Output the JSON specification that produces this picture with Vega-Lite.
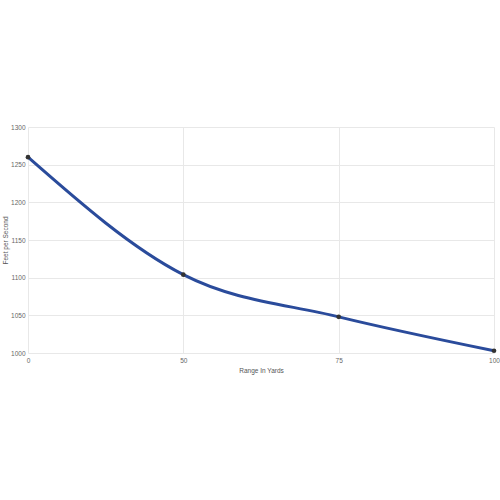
{
  "$schema": "https://vega.github.io/schema/vega-lite/v6.json",
  "width": 466,
  "height": 226,
  "autosize": "none",
  "padding": {"left": 28, "top": 127, "right": 6, "bottom": 147},
  "background": "white",
  "config": {
    "view": {"stroke": null},
    "font": "Arial",
    "axis": {
      "gridColor": "#e8e8e8",
      "gridWidth": 1,
      "grid": true,
      "domain": false,
      "ticks": false,
      "labelFontSize": 6.5,
      "labelColor": "#666666",
      "titleFontSize": 6.5,
      "titleFontWeight": "normal",
      "titleColor": "#555555"
    }
  },
  "data": {
    "values": [
      {"range": "0", "fps": 1260},
      {"range": "50", "fps": 1104},
      {"range": "75", "fps": 1048},
      {"range": "100", "fps": 1003}
    ]
  },
  "encoding": {
    "x": {
      "field": "range",
      "type": "ordinal",
      "sort": null,
      "scale": {"type": "point", "padding": 0},
      "axis": {"labelAngle": 0, "title": "Range In Yards", "grid": true, "labelPadding": 4, "titlePadding": 4}
    },
    "y": {
      "field": "fps",
      "type": "quantitative",
      "scale": {"domain": [1000, 1300], "nice": false, "zero": false},
      "axis": {"values": [1000, 1050, 1100, 1150, 1200, 1250, 1300], "format": "d", "title": "Feet per Second", "labelPadding": 3, "titlePadding": 2}
    }
  },
  "layer": [
    {
      "mark": {"type": "line", "interpolate": "monotone", "color": "#2a4b9b", "strokeWidth": 3}
    },
    {
      "mark": {"type": "point", "filled": true, "color": "#333333", "size": 22, "opacity": 1}
    }
  ]
}
